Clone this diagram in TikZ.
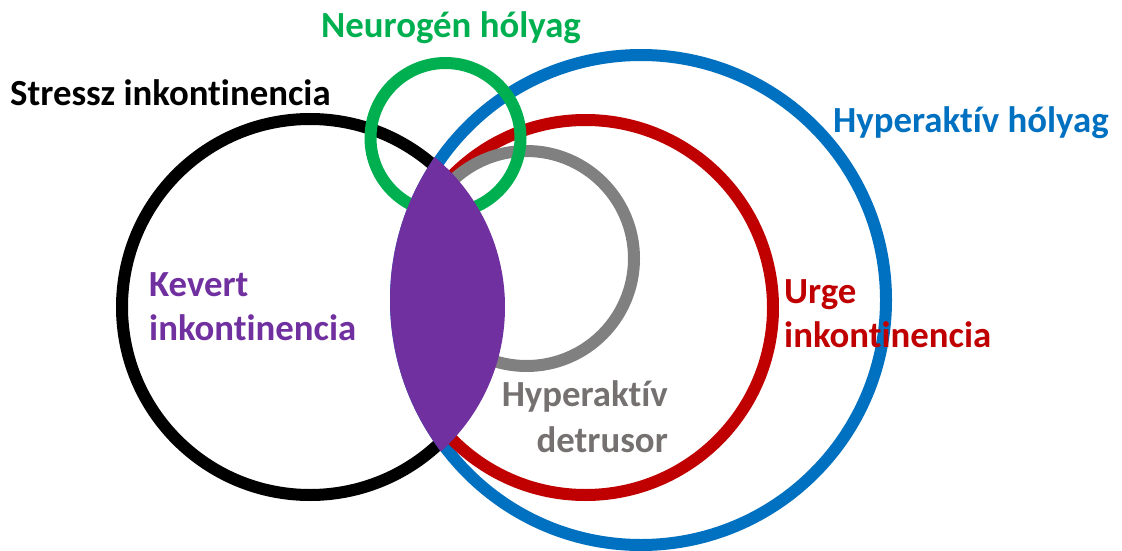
\documentclass[tikz,border=0pt]{standalone}
\usepackage{fontspec}
\setmainfont{Carlito}[Ligatures=CommonOff]
\definecolor{kgreen}{HTML}{00B050}
\definecolor{kblue}{HTML}{0070C0}
\definecolor{kred}{HTML}{C00000}
\definecolor{kpurple}{HTML}{7030A0}
\definecolor{kgray}{HTML}{808080}
\definecolor{kgraytext}{HTML}{767171}
\begin{document}
\begin{tikzpicture}[x=1pt,y=-1pt,
  ring/.style={line width=12pt},
  lbl/.style={font=\fontsize{36.8}{44}\selectfont\bfseries, inner sep=0pt}]
\useasboundingbox (0,0) rectangle (1122,551);
\coordinate (cS) at (310,307);
\coordinate (cH) at (641,300);
\coordinate (cU) at (585.5,307.5);
\coordinate (cD) at (526.5,258.5);
\coordinate (cN) at (445.5,138);
% rings
\draw[ring, black] (cS) circle[radius=188pt];
\draw[ring, kblue] (cH) circle[radius=245pt];
\draw[ring, kred] (cU) circle[radius=187.5pt];
\draw[ring, kgray] (cD) circle[radius=107.5pt];
\draw[ring, kgreen] (cN) circle[radius=75pt];
% lens (mixed)
\begin{scope}
  \clip (cS) circle[radius=195pt];
  \fill[kpurple] (cH) circle[radius=251pt];
\end{scope}
% labels
\node[lbl, anchor=base west, text=black] (stress) at (10,105) {Stressz inkontinencia};
\node[lbl, anchor=base west, text=kgreen] (neuro) at (321,38) {Neurogén hólyag};
\node[lbl, anchor=base west, text=kblue] (oab) at (833,132) {Hyperaktív hólyag};
\node[lbl, anchor=base west, text=kpurple] (mix1) at (149,296) {Kevert};
\node[lbl, anchor=base west, text=kpurple] (mix2) at (149,340) {inkontinencia};
\node[lbl, anchor=base west, text=kred] (urge1) at (784,303) {Urge};
\node[lbl, anchor=base west, text=kred] (urge2) at (784,347) {inkontinencia};
\node[lbl, anchor=base east, text=kgraytext] (det1) at (668,406) {Hyperaktív};
\node[lbl, anchor=base east, text=kgraytext] (det2) at (668,452) {detrusor};
\end{tikzpicture}
\end{document}
